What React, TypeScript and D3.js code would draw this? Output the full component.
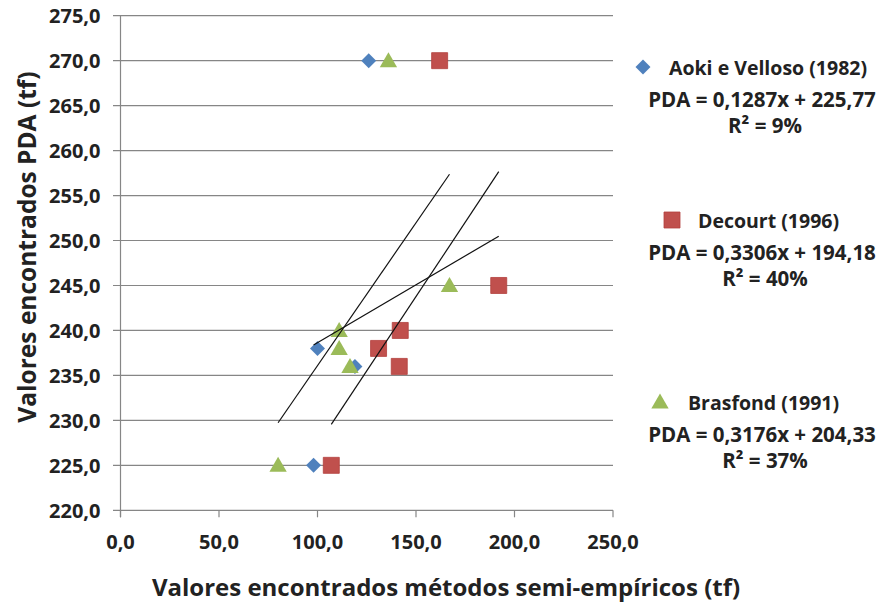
import React from "react";
import * as d3 from "d3";

// valores
const aokiX = [98, 100, 119, 126, 192];
const aokiY = [225, 238, 236, 270, 245];
const decourtX = [107, 131, 142, 141.5, 192, 162];
const decourtY = [225, 238, 240, 236, 245, 270];
const brasfondX = [80, 111, 111, 116.5, 167, 136];
const brasfondY = [225, 240, 238, 236, 245, 270];

const seriesNames = ["Aoki e Velloso (1982)", "Decourt (1996)", "Brasfond (1991)"];
const equations = ["PDA = 0,1287x + 225,77", "PDA = 0,3306x + 194,18", "PDA = 0,3176x + 204,33"];
const rSquared = ["R² = 9%", "R² = 40%", "R² = 37%"];
const slopes = [0.1287, 0.3306, 0.3176];
const intercepts = [225.77, 194.18, 204.33];

const xTicks = [0, 50, 100, 150, 200, 250];
const yTicks = [220, 225, 230, 235, 240, 245, 250, 255, 260, 265, 270, 275];

const width = 880;
const height = 603;
const font = "'Open Sans', 'DejaVu Sans', sans-serif";
const textColor = "#222";
const gridColor = "#868686";

const fmt = (v: number) => v.toFixed(1).replace(".", ",");

const series = [
  { name: seriesNames[0], xs: aokiX, ys: aokiY, color: "#4F81BD", shape: "diamond" },
  { name: seriesNames[1], xs: decourtX, ys: decourtY, color: "#C0504D", shape: "square" },
  { name: seriesNames[2], xs: brasfondX, ys: brasfondY, color: "#9BBB59", shape: "triangle" },
];

// legenda: posição do marcador, do texto e da linha do título
const legend = [
  { mx: 643, tx: 669, y: 67 },
  { mx: 672, tx: 698, y: 220 },
  { mx: 660, tx: 688, y: 402 },
];

const markerPath = (shape: string) => {
  if (shape === "square") return d3.symbol(d3.symbolSquare, 256)()!;
  if (shape === "triangle") return d3.symbol(d3.symbolTriangle, 130)()!;
  return d3.symbol(d3.symbolSquare, 112)()!;
};

const Marker = ({ shape, color, x, y }: any) => (
  <path
    d={markerPath(shape)}
    fill={color}
    stroke={shape === "square" ? "#B3403D" : "none"}
    strokeWidth={0.8}
    transform={`translate(${x},${y})${shape === "diamond" ? " rotate(45)" : shape === "triangle" ? " translate(0,1.5)" : ""}`}
  />
);

export default function App() {
  const x = d3.scaleLinear().domain([0, 250]).range([120.5, 613]);
  const y = d3.scaleLinear().domain([220, 275]).range([510.3, 15.7]);

  return (
    <svg
      width={width}
      height={height}
      style={{ position: "absolute", left: 0, top: 0, background: "#fff" }}
      fontFamily={font}
      fontWeight={700}
    >
      <rect width={width} height={height} fill="#fff" />
      {/* grade horizontal */}
      {yTicks.map((t) => (
        <line key={t} x1={113} x2={x(250)} y1={y(t)} y2={y(t)} stroke={gridColor} strokeWidth={1.2} />
      ))}
      {/* eixo vertical */}
      <line x1={x(0)} x2={x(0)} y1={y(275)} y2={y(220) + 7} stroke={gridColor} strokeWidth={1.2} />
      {xTicks.map((t) => (
        <line key={t} x1={x(t)} x2={x(t)} y1={y(220)} y2={y(220) + 7} stroke={gridColor} strokeWidth={1.2} />
      ))}
      {yTicks.map((t) => (
        <text key={t} x={100.5} y={y(t)} textAnchor="end" dominantBaseline="central" fontSize={20} fill={textColor}>
          {fmt(t)}
        </text>
      ))}
      {xTicks.map((t) => (
        <text key={t} x={x(t)} y={541} textAnchor="middle" dominantBaseline="central" fontSize={20} fill={textColor}>
          {fmt(t)}
        </text>
      ))}
      {/* pontos */}
      {series.map((s) =>
        s.xs.map((v, i) => <Marker key={s.name + i} shape={s.shape} color={s.color} x={x(v)} y={y(s.ys[i])} />)
      )}
      {/* linhas de tendência */}
      {series.map((s, i) => {
        const [x0, x1] = d3.extent(s.xs) as [number, number];
        const line = d3
          .line<number>()
          .x((d) => x(d))
          .y((d) => y(slopes[i] * d + intercepts[i]));
        return <path key={s.name} d={line([x0, x1])!} stroke="#111" strokeWidth={1.2} fill="none" />;
      })}
      {/* legenda */}
      {series.map((s, i) => (
        <g key={s.name}>
          <Marker shape={s.shape} color={s.color} x={legend[i].mx} y={legend[i].y} />
          <text x={legend[i].tx} y={legend[i].y} dominantBaseline="central" fontSize={19.5} fill={textColor}>
            {s.name}
          </text>
          <text x={762} y={legend[i].y + 32} textAnchor="middle" dominantBaseline="central" fontSize={20.5} fill={textColor}>
            {equations[i]}
          </text>
          <text x={765} y={legend[i].y + 58} textAnchor="middle" dominantBaseline="central" fontSize={20.5} fill={textColor}>
            {rSquared[i]}
          </text>
        </g>
      ))}
      {/* títulos dos eixos */}
      <text x={446} y={596} textAnchor="middle" fontSize={24} fill={textColor}>
        Valores encontrados métodos semi-empíricos (tf)
      </text>
      <text transform="translate(36,247) rotate(-90)" textAnchor="middle" fontSize={24.5} fill={textColor}>
        Valores encontrados PDA (tf)
      </text>
    </svg>
  );
}
